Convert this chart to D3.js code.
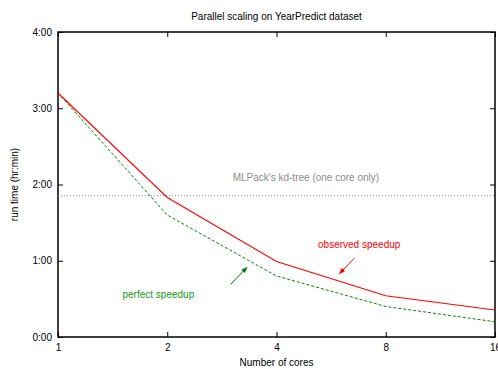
<!DOCTYPE html>
<html>
<head>
<meta charset="utf-8">
<script src="https://cdn.jsdelivr.net/npm/d3@7"></script>
<style>
  html, body { margin: 0; padding: 0; background: #fff; }
  svg text { font-family: "Liberation Sans", Arial, sans-serif; font-size: 10px; }
</style>
</head>
<body>
<div id="chart"></div>
<script>
// data: run time in hours per core count
const cores = [1, 2, 4, 8, 16];
const observedHours = [3.2, 1.83, 0.99, 0.54, 0.355];
const perfectHours = [3.2, 1.6, 0.8, 0.4, 0.2];
const kdTreeHours = 1.853;
const yTicks = [0, 1, 2, 3, 4];

// annotations, in data units (cores, hours)
const labels = [
  { text: "MLPack's kd-tree (one core only)", cores: 4.82, hours: 2.04, color: '#8c8c8c' },
  { text: 'observed speedup', cores: 6.76, hours: 1.167, color: '#ff0000' },
  { text: 'perfect speedup', cores: 1.89, hours: 0.515, color: '#119911' },
];
const arrows = [
  { from: [6.56, 1.036], to: [5.94, 0.822], color: '#ff0000' },
  { from: [2.99, 0.691], to: [3.33, 0.922], color: '#007700' },
];

const width = 498;
const height = 369;
const margin = { top: 32, right: 3, bottom: 32, left: 58 };

const svg = d3.select('#chart')
  .append('svg')
  .attr('width', width)
  .attr('height', height)
  .attr('viewBox', `0 0 ${width} ${height}`);

const x = d3.scaleLog().base(2)
  .domain([1, 16])
  .range([margin.left, width - margin.right]);

const y = d3.scaleLinear()
  .domain([0, 4])
  .range([height - margin.bottom, margin.top]);

const fmtTime = (h) => `${Math.floor(h)}:${String(Math.round((h % 1) * 60)).padStart(2, '0')}`;

// axes (gnuplot-style, inward ticks mirrored)
const axisStyle = (g) => {
  g.select('.domain').remove();
  g.selectAll('.tick line').attr('stroke', '#000').attr('stroke-width', 1);
  g.selectAll('.tick text').attr('fill', '#000').style('font-size', '10px');
};

svg.append('g')
  .attr('transform', `translate(0,${y(0)})`)
  .call(d3.axisBottom(x).tickValues(cores).tickFormat(d3.format('d')).tickSizeInner(-5).tickPadding(7))
  .call(axisStyle);

svg.append('g')
  .attr('transform', `translate(0,${y(4)})`)
  .call(d3.axisTop(x).tickValues(cores).tickFormat('').tickSizeInner(-5))
  .call(axisStyle);

svg.append('g')
  .attr('transform', `translate(${x(1)},0)`)
  .call(d3.axisLeft(y).tickValues(yTicks).tickFormat(fmtTime).tickSizeInner(-5).tickPadding(6))
  .call(axisStyle);

svg.append('g')
  .attr('transform', `translate(${x(16)},0)`)
  .call(d3.axisRight(y).tickValues(yTicks).tickFormat('').tickSizeInner(-5))
  .call(axisStyle);

// plot border
svg.append('rect')
  .attr('x', x(1))
  .attr('y', y(4))
  .attr('width', x(16) - x(1))
  .attr('height', y(0) - y(4))
  .attr('fill', 'none')
  .attr('stroke', '#000')
  .attr('stroke-width', 1.5);

// kd-tree baseline
svg.append('line')
  .attr('x1', x(1)).attr('x2', x(16))
  .attr('y1', y(kdTreeHours)).attr('y2', y(kdTreeHours))
  .attr('stroke', '#888')
  .attr('stroke-width', 1)
  .attr('stroke-dasharray', '1,2');

const line = d3.line()
  .x((d) => x(d[0]))
  .y((d) => y(d[1]));

svg.append('path')
  .datum(d3.zip(cores, perfectHours))
  .attr('d', line)
  .attr('fill', 'none')
  .attr('stroke', '#008800')
  .attr('stroke-width', 1)
  .attr('stroke-dasharray', '3,2');

svg.append('path')
  .datum(d3.zip(cores, observedHours))
  .attr('d', line)
  .attr('fill', 'none')
  .attr('stroke', '#ff0000')
  .attr('stroke-width', 1.1);

// arrows
arrows.forEach((a) => {
  const x1 = x(a.from[0]);
  const y1 = y(a.from[1]);
  const x2 = x(a.to[0]);
  const y2 = y(a.to[1]);
  const ang = Math.atan2(y2 - y1, x2 - x1);
  const len = 7;
  const spread = 0.35;
  svg.append('line')
    .attr('x1', x1).attr('y1', y1)
    .attr('x2', x2 - Math.cos(ang) * 3).attr('y2', y2 - Math.sin(ang) * 3)
    .attr('stroke', a.color)
    .attr('stroke-width', 1);
  svg.append('path')
    .attr('d', `M${x2},${y2}`
      + `L${x2 - len * Math.cos(ang - spread)},${y2 - len * Math.sin(ang - spread)}`
      + `L${x2 - len * Math.cos(ang + spread)},${y2 - len * Math.sin(ang + spread)}Z`)
    .attr('fill', a.color);
});

// annotation labels
svg.selectAll('.note')
  .data(labels)
  .join('text')
  .attr('class', 'note')
  .attr('x', (d) => x(d.cores))
  .attr('y', (d) => y(d.hours))
  .attr('text-anchor', 'middle')
  .attr('fill', (d) => d.color)
  .text((d) => d.text);

// titles
svg.append('text')
  .attr('x', (x(1) + x(16)) / 2)
  .attr('y', 20)
  .attr('text-anchor', 'middle')
  .text('Parallel scaling on YearPredict dataset');

svg.append('text')
  .attr('x', (x(1) + x(16)) / 2)
  .attr('y', 366)
  .attr('text-anchor', 'middle')
  .text('Number of cores');

svg.append('text')
  .attr('transform', `translate(18,${(y(0) + y(4)) / 2}) rotate(-90)`)
  .attr('text-anchor', 'middle')
  .text('run time (hr:min)');
</script>
</body>
</html>
